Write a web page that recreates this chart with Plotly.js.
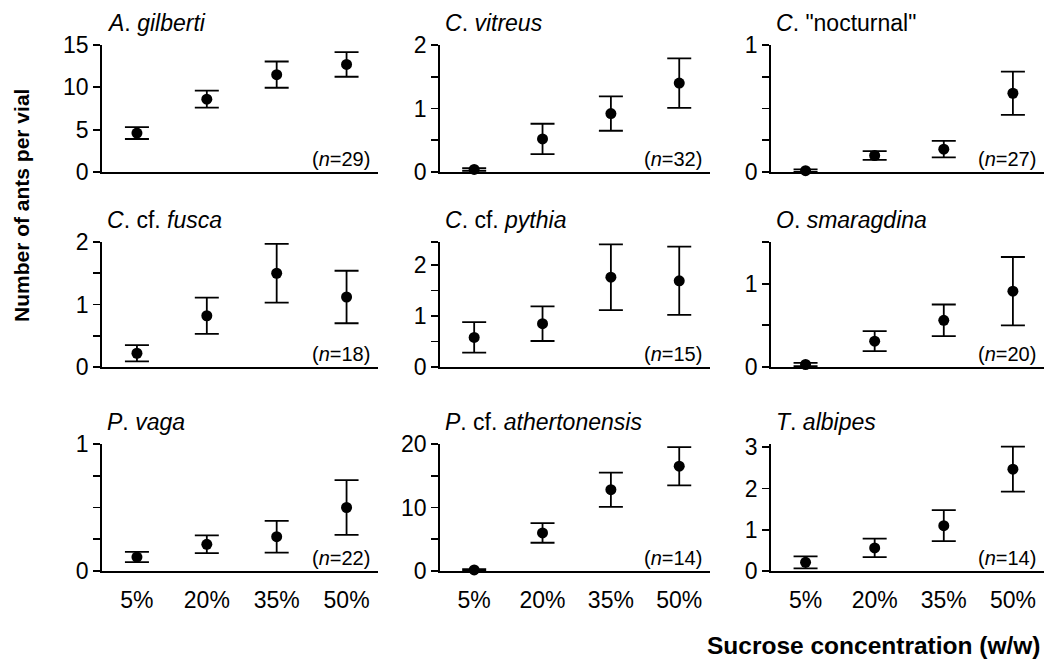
<!DOCTYPE html>
<html>
<head>
<meta charset="utf-8">
<script src="https://cdn.plot.ly/plotly-3.0.1.min.js"></script>
<style>html,body{margin:0;padding:0;background:#fff;}#chart{width:1044px;height:662px;}</style>
</head>
<body>
<div id="chart"></div>
<script>
const categories = ['5%', '20%', '35%', '50%'];
const speciesTitles = ['<i>A</i>. <i>gilberti</i>', '<i>C</i>. <i>vitreus</i>', '<i>C</i>. "nocturnal"',
  '<i>C</i>. cf. <i>fusca</i>', '<i>C</i>. cf. <i>pythia</i>', '<i>O</i>. <i>smaragdina</i>',
  '<i>P</i>. <i>vaga</i>', '<i>P</i>. cf. <i>athertonensis</i>', '<i>T</i>. <i>albipes</i>'];
const sampleSizes = [29, 32, 27, 18, 15, 20, 22, 14, 14];

const gilbertiMean = [4.6, 8.6, 11.5, 12.7];
const gilbertiErr = [0.7, 1.0, 1.55, 1.45];
const vitreusMean = [0.04, 0.52, 0.92, 1.40];
const vitreusErr = [0.02, 0.24, 0.27, 0.39];
const nocturnalMean = [0.01, 0.13, 0.18, 0.62];
const nocturnalErr = [0.01, 0.035, 0.065, 0.17];
const fuscaMean = [0.22, 0.82, 1.50, 1.12];
const fuscaErr = [0.13, 0.29, 0.47, 0.42];
const pythiaMean = [0.58, 0.85, 1.76, 1.69];
const pythiaErr = [0.30, 0.34, 0.645, 0.67];
const smaragdinaMean = [0.03, 0.31, 0.56, 0.91];
const smaragdinaErr = [0.02, 0.12, 0.19, 0.41];
const vagaMean = [0.11, 0.21, 0.27, 0.50];
const vagaErr = [0.04, 0.07, 0.125, 0.215];
const athertonensisMean = [0.16, 6.0, 12.8, 16.5];
const athertonensisErr = [0.15, 1.55, 2.7, 3.0];
const albipesMean = [0.21, 0.56, 1.10, 2.47];
const albipesErr = [0.145, 0.225, 0.375, 0.545];

const yMax = [15, 2, 1, 2, 2.45, 1.5, 1, 20, 3.08];
const yTickVals = [
  [0, 5, 10, 15], [0, 0.5, 1, 1.5, 2], [0, 0.25, 0.5, 0.75, 1],
  [0, 0.5, 1, 1.5, 2], [0, 0.5, 1, 1.5, 2, 2.45], [0, 0.5, 1, 1.5],
  [0, 0.25, 0.5, 0.75, 1], [0, 5, 10, 15, 20], [0, 1, 2, 3]];
const yTickText = [
  ['0', '5', '10', '15'], ['0', '', '1', '', '2'], ['0', '', '', '', '1'],
  ['0', '', '1', '', '2'], ['0', '', '1', '', '2', ''], ['0', '', '1', ''],
  ['0', '', '', '', '1'], ['0', '', '10', '', '20'], ['0', '1', '2', '3']];

const means = [gilbertiMean, vitreusMean, nocturnalMean, fuscaMean, pythiaMean, smaragdinaMean, vagaMean, athertonensisMean, albipesMean];
const errs = [gilbertiErr, vitreusErr, nocturnalErr, fuscaErr, pythiaErr, smaragdinaErr, vagaErr, athertonensisErr, albipesErr];

const W = 1044, H = 662;
const FONT = 'Liberation Sans, Arial, sans-serif';
const colPx = [[102, 378], [440, 710], [771, 1044]];
const rowPx = [[45, 172], [242, 367], [444, 571]];

const data = [];
const layout = {
  width: W, height: H,
  margin: {l: 0, r: 0, t: 0, b: 0},
  paper_bgcolor: '#fff', plot_bgcolor: 'rgba(0,0,0,0)',
  showlegend: false,
  font: {family: FONT, color: '#000', size: 21},
  annotations: []
};

for (let i = 0; i < 9; i++) {
  const r = Math.floor(i / 3), c = i % 3;
  const k = i + 1;
  const xa = 'x' + (k === 1 ? '' : k), ya = 'y' + (k === 1 ? '' : k);
  data.push({
    type: 'scatter', mode: 'markers',
    x: categories, y: means[i],
    xaxis: xa, yaxis: ya,
    cliponaxis: false,
    marker: {color: '#000', size: 11},
    error_y: {type: 'data', array: errs[i], visible: true, color: '#000', thickness: 1.8, width: 12}
  });
  layout['xaxis' + (k === 1 ? '' : k)] = {
    domain: [colPx[c][0] / W, colPx[c][1] / W],
    anchor: ya, type: 'category', categoryorder: 'array', categoryarray: categories,
    range: [-0.5, 3.45],
    showline: true, linecolor: '#000', linewidth: 1.8,
    showgrid: false, zeroline: false, ticks: '',
    showticklabels: r === 2,
    ticklabelstandoff: 8,
    tickfont: {family: FONT, size: 23, color: '#000'}
  };
  layout['yaxis' + (k === 1 ? '' : k)] = {
    domain: [1 - rowPx[r][1] / H, 1 - rowPx[r][0] / H],
    anchor: xa, range: [0, yMax[i]],
    showline: true, linecolor: '#000', linewidth: 1.8,
    showgrid: false, zeroline: false,
    ticks: 'outside', ticklen: 7, tickwidth: 1.8, tickcolor: '#000',
    tickmode: 'array', tickvals: yTickVals[i], ticktext: yTickText[i],
    tickfont: {family: FONT, size: 23, color: '#000'}
  };
  layout.annotations.push({
    text: speciesTitles[i], xref: 'paper', yref: 'paper',
    x: (colPx[c][0] + 3) / W, y: 1 - (rowPx[r][0] - 22) / H,
    xanchor: 'left', yanchor: 'middle', showarrow: false,
    font: {family: FONT, size: 23, color: '#000'}
  });
  layout.annotations.push({
    text: '(<i>n</i>=' + sampleSizes[i] + ')', xref: xa + ' domain', yref: ya + ' domain',
    x: 1, y: 0, xanchor: 'right', yanchor: 'bottom', xshift: -6, yshift: 0, showarrow: false,
    font: {family: FONT, size: 20, color: '#000'}
  });
}

layout.annotations.push({
  text: '<b>Number of ants per vial</b>', xref: 'paper', yref: 'paper',
  x: 22 / W, y: 1 - 206 / H, xanchor: 'center', yanchor: 'middle', textangle: -90,
  showarrow: false, font: {family: FONT, size: 21, color: '#000'}
});
layout.annotations.push({
  text: '<b>Sucrose concentration (w/w)</b>', xref: 'paper', yref: 'paper',
  x: 1043 / W, y: 1 - 645 / H, xanchor: 'right', yanchor: 'middle',
  showarrow: false, font: {family: FONT, size: 24.5, color: '#000'}
});

Plotly.newPlot('chart', data, layout, {displayModeBar: false, staticPlot: true});
</script>
</body>
</html>
